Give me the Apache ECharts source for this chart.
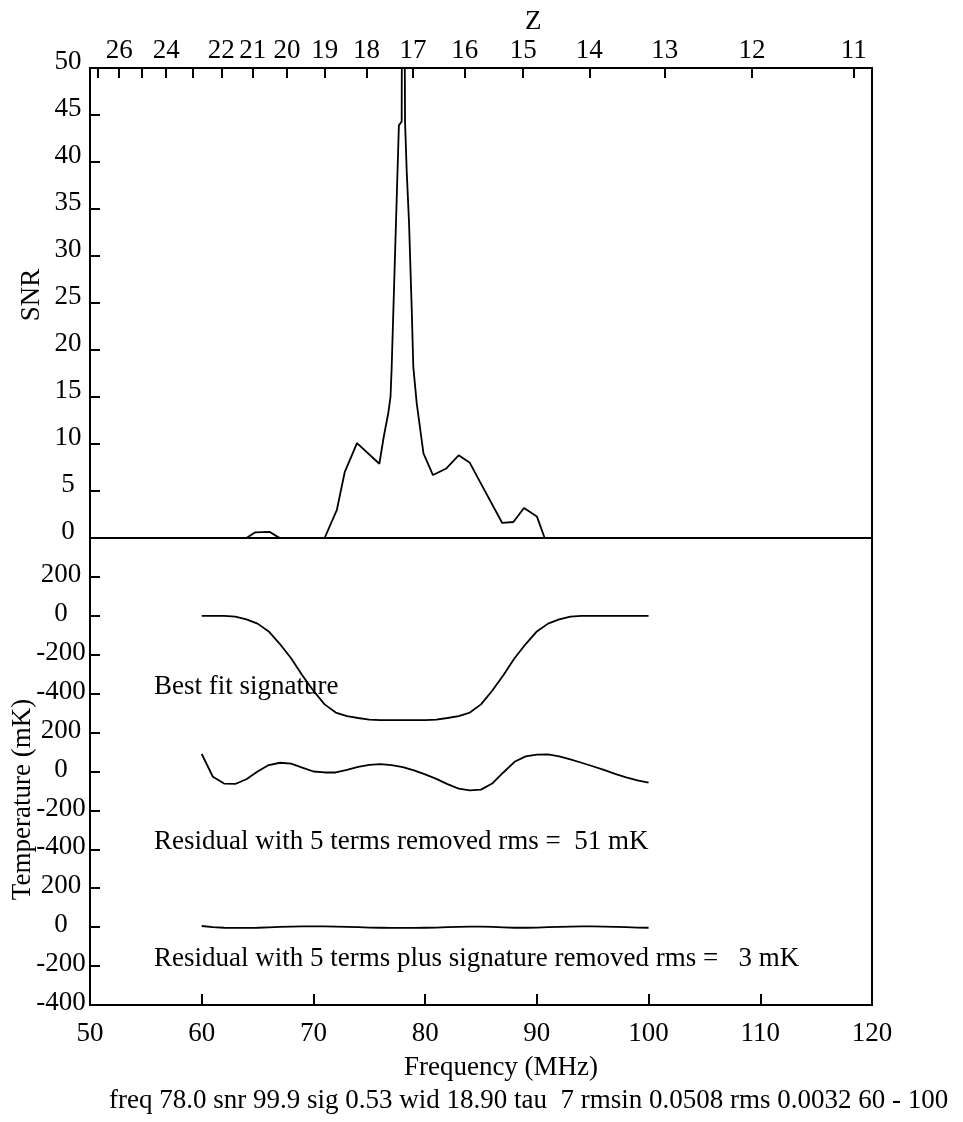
<!DOCTYPE html>
<html>
<head>
<meta charset="utf-8">
<title>SNR and residuals</title>
<script src="https://cdn.jsdelivr.net/npm/echarts@6/dist/echarts.min.js"></script>
<style>
  html, body { margin: 0; padding: 0; background: #fff; }
  #chart { width: 963px; height: 1122px; }
</style>
</head>
<body>
<div id="chart"></div>
<script>
// SNR of the best fit vs centre frequency (MHz)
var snrFreq = [60, 64.0, 64.8, 66.1, 66.7, 67.0, 71.0, 72.1, 72.8, 73.9, 75.9, 76.3, 76.7, 76.9, 77.0, 77.65, 77.9, 78.0,
  78.2, 78.35, 78.56, 78.8, 78.94, 79.25, 79.85, 80.7, 81.9, 83.0, 84.0, 84.9, 86.9, 87.9, 88.85, 90.0, 90.7, 100]
var snrVal = [0, 0, 0.6, 0.65, 0.2, 0, 0, 3.0, 7.0, 10.1, 7.9, 10.8, 13.3, 15.0, 18.0, 43.9, 44.3, 99.9,
  44.3, 39.0, 33.5, 24.3, 18.2, 14.3, 9.0, 6.7, 7.4, 8.8, 8.0, 6.0, 1.6, 1.7, 3.2, 2.3, 0, 0]

// fitted band 60 - 100 MHz, 1 MHz steps, mK
var bandFreq = [60, 61, 62, 63, 64, 65, 66, 67, 68, 69, 70, 71, 72, 73, 74, 75, 76, 77, 78, 79, 80,
  81, 82, 83, 84, 85, 86, 87, 88, 89, 90, 91, 92, 93, 94, 95, 96, 97, 98, 99, 100]
var signature = [0, 0, 0, -4, -18, -40, -80, -145, -218, -305, -385, -455, -497, -515, -525, -533, -536, -536, -536, -536, -536,
  -533, -525, -515, -497, -455, -385, -305, -218, -145, -80, -40, -18, -4, 0, 0, 0, 0, 0, 0, 0]
var residual5 = [90, -27, -62, -64, -40, 0, 33, 45, 40, 20, 0, -5, -5, 8, 24, 34, 38, 33, 22, 6, -15,
  -38, -65, -88, -97, -93, -62, -5, 50, 78, 87, 88, 78, 62, 45, 27, 8, -12, -30, -45, -57]
var residualSig = [6, 0, -3, -4, -4, -3, -1, 1, 3, 4, 4, 4, 3, 2, 0, -2, -3, -4, -4, -4, -3,
  -2, 0, 2, 3, 3, 1, -1, -3, -3, -2, 0, 2, 3, 4, 4, 3, 2, 0, -2, -3]

// redshift axis on top
var zTicks = [27, 26, 25, 24, 23, 22, 21, 20, 19, 18, 17, 16, 15, 14, 13, 12, 11]
var zLabels = [26, 24, 22, 21, 20, 19, 18, 17, 16, 15, 14, 13, 12, 11]

var HI = 1420.4
var serif = 'Liberation Serif'
var zToFreq = function (z) { return HI / (1 + z) }
var pairs = function (xs, ys) { return xs.map(function (x, i) { return [x, ys[i]] }) }

var chart = echarts.init(document.getElementById('chart'))

var labelStyle = { color: '#000', fontSize: 27, fontFamily: serif }
var tickStyle = { color: '#000', width: 2 }
var lineStyle = { color: '#000', width: 1.8 }

var hiddenX = function (gi) {
  return { type: 'value', gridIndex: gi, min: 50, max: 120, show: false }
}
var tempAxis = function (gi) {
  return {
    type: 'value', gridIndex: gi, min: -400, max: 400, interval: 200,
    axisLine: { show: false },
    axisTick: { inside: true, length: 10, lineStyle: tickStyle },
    splitLine: { show: false },
    axisLabel: Object.assign({}, labelStyle, {
      align: 'center', verticalAlign: 'bottom', lineHeight: 4, margin: 29,
      formatter: function (v) { return v === 400 ? '' : v }
    })
  }
}

var option = {
  animation: false,
  backgroundColor: '#fff',
  textStyle: { fontFamily: serif, color: '#000' },
  title: [
    { text: 'Z', left: 525, top: 8 },
    { text: 'Best fit signature', left: 154, top: 673 },
    { text: 'Residual with 5 terms removed rms =  51 mK', left: 154, top: 828 },
    { text: 'Residual with 5 terms plus signature removed rms =   3 mK', left: 154, top: 945 },
    { text: 'freq 78.0 snr 99.9 sig 0.53 wid 18.90 tau  7 rmsin 0.0508 rms 0.0032 60 - 100', left: 109, top: 1087 }
  ].map(function (t) {
    t.padding = 0
    t.textStyle = { fontFamily: serif, fontSize: 27, fontWeight: 'normal', color: '#000' }
    return t
  }),
  grid: [
    { left: 90, top: 68, width: 782, height: 470, show: true, borderColor: '#000', borderWidth: 2, outerBoundsMode: 'none' },
    { left: 90, top: 538, width: 782, height: 155.67, outerBoundsMode: 'none' },
    { left: 90, top: 693.67, width: 782, height: 155.67, outerBoundsMode: 'none' },
    { left: 90, top: 849.33, width: 782, height: 155.67, outerBoundsMode: 'none' },
    { left: 90, top: 538, width: 782, height: 467, show: true, borderColor: '#000', borderWidth: 2, outerBoundsMode: 'none' }
  ],
  xAxis: [
    hiddenX(0),
    {
      type: 'value', gridIndex: 0, position: 'top', min: 50, max: 120,
      axisLine: { show: false, onZero: false },
      splitLine: { show: false },
      axisTick: { inside: true, length: 10, lineStyle: tickStyle, customValues: zTicks.map(zToFreq) },
      axisLabel: Object.assign({}, labelStyle, {
        verticalAlign: 'middle', margin: 17,
        customValues: zLabels.map(zToFreq),
        formatter: function (v) { return Math.round(HI / v - 1) }
      })
    },
    hiddenX(1),
    hiddenX(2),
    {
      type: 'value', gridIndex: 3, position: 'bottom', min: 50, max: 120, interval: 10,
      axisLine: { show: false, onZero: false },
      splitLine: { show: false },
      axisTick: { inside: true, length: 11, lineStyle: tickStyle },
      axisLabel: Object.assign({}, labelStyle, { verticalAlign: 'middle', margin: 29 }),
      name: 'Frequency (MHz)', nameLocation: 'middle', nameGap: 63, nameMoveOverlap: false,
      nameTextStyle: Object.assign({}, labelStyle, { verticalAlign: 'middle', padding: [0, 0, 0, 40] })
    },
    hiddenX(4)
  ],
  yAxis: [
    {
      type: 'value', gridIndex: 0, min: 0, max: 50, interval: 5,
      axisLine: { show: false },
      splitLine: { show: false },
      axisTick: { inside: true, length: 10, lineStyle: tickStyle },
      axisLabel: Object.assign({}, labelStyle, { align: 'center', verticalAlign: 'bottom', lineHeight: 12, margin: 22 }),
      name: 'SNR', nameLocation: 'middle', nameGap: 58, nameMoveOverlap: false,
      nameTextStyle: Object.assign({}, labelStyle, { verticalAlign: 'middle', padding: [0, 0, 0, 16] })
    },
    tempAxis(1),
    Object.assign(tempAxis(2), {
      name: 'Temperature (mK)', nameLocation: 'middle', nameGap: 67, nameMoveOverlap: false,
      nameTextStyle: Object.assign({}, labelStyle, { verticalAlign: 'middle', padding: [0, 56, 0, 0] })
    }),
    tempAxis(3),
    { type: 'value', gridIndex: 4, min: 0, max: 1, show: false }
  ],
  series: [
    {
      name: 'SNR', type: 'line', xAxisIndex: 0, yAxisIndex: 0, symbol: 'none', clip: true,
      lineStyle: lineStyle,
      data: pairs(snrFreq, snrVal)
    },
    {
      name: 'Best fit signature', type: 'line', xAxisIndex: 2, yAxisIndex: 1, symbol: 'none', clip: false,
      lineStyle: lineStyle,
      data: pairs(bandFreq, signature)
    },
    {
      name: 'Residual 5 terms', type: 'line', xAxisIndex: 3, yAxisIndex: 2, symbol: 'none', clip: false,
      lineStyle: lineStyle,
      data: pairs(bandFreq, residual5)
    },
    {
      name: 'Residual 5 terms + signature', type: 'line', xAxisIndex: 4, yAxisIndex: 3, symbol: 'none', clip: false,
      lineStyle: lineStyle,
      data: pairs(bandFreq, residualSig)
    }
  ]
}

chart.setOption(option)
</script>
</body>
</html>
